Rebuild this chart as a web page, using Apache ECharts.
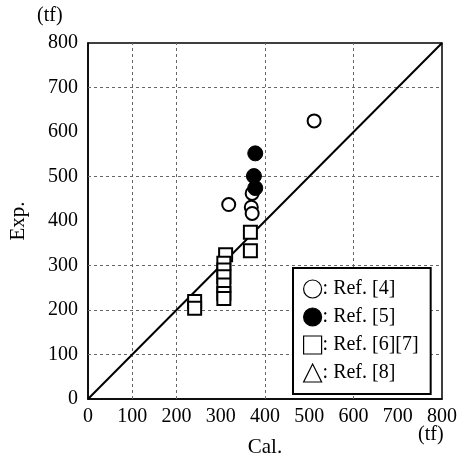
<!DOCTYPE html>
<html>
<head>
<meta charset="utf-8">
<script src="https://cdn.jsdelivr.net/npm/echarts@6/dist/echarts.min.js"></script>
<style>
  html, body { margin: 0; padding: 0; background: #fff; }
  #diagram { width: 465px; height: 463px; }
</style>
</head>
<body>
<div id="diagram"></div>
<script>
// data (Cal., Exp.) in tf
var ref4 = [[511, 625], [318, 437], [371, 462], [369, 431], [371, 417]];
var ref5 = [[378, 552], [375, 501], [378, 474]];
var ref67 = [[367, 375], [367, 333], [311, 324], [307, 305], [307, 290], [307, 275],
             [307, 256], [307, 237], [307, 226], [241, 219], [241, 204]];
var ref8 = [];
var diagX = [0, 800];
var diagY = [0, 800];
// the dotted grid in the original is not drawn at every tick
var xGridLines = [100, 200, 400, 600];
var yGridLines = [100, 200, 300, 500, 700];
var legendNames = ["Ref. [4]", "Ref. [5]", "Ref. [6][7]", "Ref. [8]"];

var serif = "Liberation Serif";
var myChart = echarts.init(document.getElementById("diagram"));

var gridMarks = xGridLines.map(function (v) { return { xAxis: v }; })
  .concat(yGridLines.map(function (v) { return { yAxis: v }; }));

var option = {
  animation: false,
  textStyle: { fontFamily: serif, color: "#000" },
  grid: {
    left: 87, right: 23, top: 43, bottom: 64,
    show: true, borderColor: "#000", borderWidth: 1.5, backgroundColor: "transparent"
  },
  legend: {
    orient: "vertical",
    left: 293,
    top: 268,
    padding: [11, 12, 11, 10],
    itemGap: 8,
    itemWidth: 18,
    itemHeight: 18,
    borderColor: "#000",
    borderWidth: 2,
    backgroundColor: "#fff",
    data: [
      { name: legendNames[0], icon: "circle" },
      { name: legendNames[1], icon: "circle" },
      { name: legendNames[2], icon: "rect" },
      { name: legendNames[3], icon: "triangle" }
    ],
    formatter: function (name) { return ": " + name; },
    itemStyle: { borderWidth: 1.2, opacity: 1 },
    textStyle: { fontFamily: serif, fontSize: 20, color: "#000", padding: [0, 0, 0, -4] }
  },
  xAxis: {
    type: "value",
    min: 0, max: 800, interval: 100,
    name: "Cal.",
    nameLocation: "middle",
    nameGap: 38,
    nameTextStyle: { fontFamily: serif, fontSize: 21, color: "#000" },
    axisLine: { lineStyle: { color: "#000", width: 1.5 } },
    axisTick: { show: false },
    splitLine: { show: false },
    axisLabel: { fontFamily: serif, fontSize: 20, color: "#000", margin: 8 }
  },
  yAxis: {
    type: "value",
    min: 0, max: 800, interval: 100,
    name: "Exp.",
    nameLocation: "middle",
    nameGap: 59,
    nameRotate: 90,
    nameTextStyle: { fontFamily: serif, fontSize: 21, color: "#000" },
    axisLine: { lineStyle: { color: "#000", width: 1.5 } },
    axisTick: { show: false },
    splitLine: { show: false },
    axisLabel: { fontFamily: serif, fontSize: 20, color: "#000", margin: 10 }
  },
  graphic: [
    { type: "text", left: 37, top: 6, style: { text: "(tf)", font: "20px Liberation Serif", fill: "#000" } },
    { type: "text", left: 418, top: 425, style: { text: "(tf)", font: "20px Liberation Serif", fill: "#000" } }
  ],
  series: [
    {
      type: "line",
      silent: true,
      symbol: "none",
      data: diagX.map(function (x, i) { return [x, diagY[i]]; }),
      lineStyle: { color: "#000", width: 2 },
      z: 2,
      markLine: {
        silent: true,
        symbol: ["none", "none"],
        label: { show: false },
        lineStyle: { color: "#666", width: 1, type: [3, 3] },
        data: gridMarks,
        z: 1
      }
    },
    {
      name: legendNames[0],
      type: "scatter",
      symbol: "circle",
      symbolSize: 13,
      data: ref4,
      itemStyle: { color: "#fff", borderColor: "#000", borderWidth: 2, opacity: 1 },
      z: 3
    },
    {
      name: legendNames[1],
      type: "scatter",
      symbol: "circle",
      symbolSize: 15,
      data: ref5,
      itemStyle: { color: "#000", borderColor: "#000", borderWidth: 1, opacity: 1 },
      z: 4
    },
    {
      name: legendNames[2],
      type: "scatter",
      symbol: "rect",
      symbolSize: 13,
      data: ref67,
      itemStyle: { color: "#fff", borderColor: "#000", borderWidth: 2, opacity: 1 },
      z: 3
    },
    {
      name: legendNames[3],
      type: "scatter",
      symbol: "triangle",
      symbolSize: 13,
      data: ref8,
      itemStyle: { color: "#fff", borderColor: "#000", borderWidth: 2, opacity: 1 },
      z: 3
    }
  ]
};
myChart.setOption(option);
</script>
</body>
</html>
